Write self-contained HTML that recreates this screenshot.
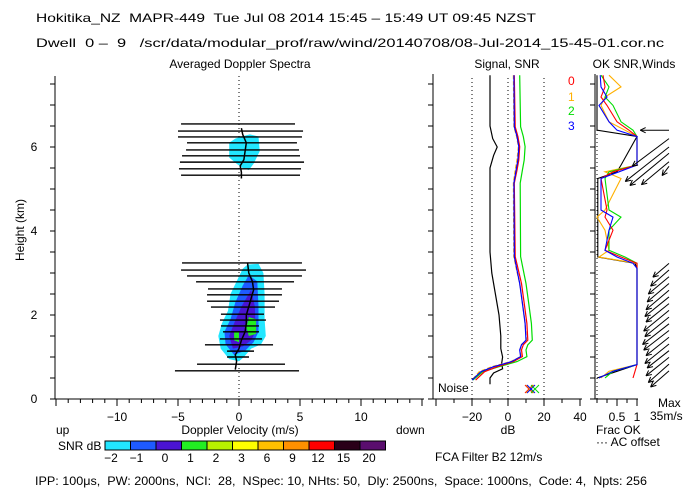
<!DOCTYPE html>
<html><head><meta charset="utf-8">
<style>
html,body{margin:0;padding:0;background:#fff;}
svg{display:block;font-family:"Liberation Sans",sans-serif;}
text{font-size:12px;fill:#000;white-space:pre;}
</style></head>
<body>
<svg id="chart" width="700" height="500" viewBox="0 0 700 500" xmlns="http://www.w3.org/2000/svg">
<g>
<text x="36" y="22" textLength="500" lengthAdjust="spacingAndGlyphs" font-size="13">Hokitika_NZ  MAPR-449  Tue Jul 08 2014 15:45 – 15:49 UT 09:45 NZST</text>
<text x="36" y="47" textLength="628" lengthAdjust="spacingAndGlyphs">Dwell  0 –  9   /scr/data/modular_prof/raw/wind/20140708/08-Jul-2014_15-45-01.cor.nc</text>
<text x="240" y="68" text-anchor="middle" font-size="13">Averaged Doppler Spectra</text>
<text x="507" y="68" text-anchor="middle" font-size="13">Signal, SNR</text>
<text x="634" y="68" text-anchor="middle" font-size="13">OK SNR,Winds</text>
</g>
<g id="axes"></g>
<g id="spectra"></g>
<g id="snr"></g>
<g id="frac"></g>
<g id="winds"></g>
<g>
<text transform="translate(24,230) rotate(-90)" text-anchor="middle" font-size="11">Height (km)</text>
<text x="240" y="434" text-anchor="middle">Doppler Velocity (m/s)</text>
<text x="56" y="434">up</text>
<text x="396" y="434">down</text>
<text x="58" y="450">SNR dB</text>
<text x="508" y="434" text-anchor="middle">dB</text>
<text x="596" y="434">Frac OK</text>
<text x="596" y="446">··· AC offset</text>
<text x="658" y="407">Max</text>
<text x="650" y="420">35m/s</text>
<text x="438" y="392">Noise</text>
<text x="435" y="461">FCA Filter B2 12m/s</text>
<text x="35" y="485" textLength="612" lengthAdjust="spacingAndGlyphs">IPP: 100μs,  PW: 2000ns,  NCI:  28,  NSpec: 10, NHts: 50,  Dly: 2500ns,  Space: 1000ns,  Code: 4,  Npts: 256</text>
<text x="568" y="85" style="fill:#ff0000">0</text>
<text x="568" y="101" style="fill:#ffb000">1</text>
<text x="568" y="115" style="fill:#00dd00">2</text>
<text x="568" y="130" style="fill:#0000ff">3</text>
</g>
<g id="colorbar"></g>
</svg>
<script>
// ---- data ----
var heightTicks = [0,2,4,6];
var velTicks = [-10,-5,0,5,10];
var dbTicks = [-20,0,20,40];
var fracTickLabels = ["0.5","1"];
var fracTickValues = [0.5,1];
var cbLabels = ["-2","-1","0","1","2","3","6","9","12","15","20"];
var cbColors = ["#22e6ff","#1e5aff","#4a14d2","#22ee22","#b8f000","#ffff00","#ffc000","#ff9000","#ff0000","#2a0018","#5a0e6e"];

var gateH = [6.55,6.38,6.24,6.10,5.93,5.79,5.64,5.48,5.33,3.24,3.07,2.93,2.79,2.62,2.48,2.33,2.19,2.02,1.88,1.74,1.60,1.43,1.29,1.14,1.0,0.83,0.67];
var gateLo = [-4.75,-5.0,-5.0,-4.26,-4.34,-4.67,-4.84,-4.92,-4.75,-4.67,-4.75,-4.26,-3.52,-2.54,-2.62,-2.62,-2.30,-1.48,-1.56,-1.48,-1.31,-1.56,-2.79,-0.98,-0.98,-3.44,-5.25];
var gateHi = [4.59,5.25,5.16,4.75,4.92,5.0,5.33,5.08,5.0,5.16,5.49,5.16,4.51,3.52,3.52,3.28,2.95,2.05,2.21,1.64,1.64,1.89,2.79,1.23,0.82,3.77,4.92];

var meanUpH = [6.45,6.3,6.1,5.9,5.7,5.55,5.4,5.25];
var meanUpV = [0.2,0.3,0.6,0.5,0.4,0.1,0.2,0.2];
var meanLoH = [3.25,3.0,2.8,2.6,2.4,2.2,2.0,1.8,1.6,1.4,1.2,1.05,0.9,0.7];
var meanLoV = [0.7,0.8,1.1,1.2,1.0,0.8,0.6,0.6,0.5,0.2,0.0,-0.3,-0.2,-0.3];

var cUpV = [0.9,1.6,1.7,1.2,0.8,0.3,-0.2,-0.8,-0.8,-0.3,0.2];
var cUpH = [6.3,6.25,5.9,5.6,5.45,5.5,5.6,5.75,6.1,6.2,6.25];
var cLoV = [0.7,1.6,2.0,2.1,2.1,2.2,1.8,1.0,0.4,0.0,-0.8,-1.5,-1.7,-1.4,-0.9,-0.7,-0.2,0.3];
var cLoH = [3.2,3.22,3.0,2.5,1.9,1.5,1.3,1.2,1.0,0.9,0.95,1.2,1.5,1.8,2.1,2.5,2.8,3.1];
var bLoV = [0.8,1.5,1.6,1.6,1.2,0.5,-0.4,-1.1,-1.2,-0.7,-0.3,0.3];
var bLoH = [2.95,2.8,2.2,1.6,1.35,1.15,1.05,1.3,1.6,1.9,2.3,2.7];
var iLoV = [1.0,1.3,1.35,1.0,0.3,-0.5,-0.8,-0.4,0.2];
var iLoH = [2.6,2.2,1.6,1.4,1.25,1.2,1.5,1.8,2.2];
var gLoV = [0.8,1.4,1.4,0.8,0.6];
var gLoH = [1.95,1.9,1.55,1.5,1.7];
var g2LoV = [-0.4,0.0,0.0,-0.4];
var g2LoH = [1.6,1.6,1.35,1.4];

var snrH = [7.71,6.48,6.25,6.01,5.69,5.45,5.14,3.39,3.07,2.75,2.28,1.80,1.40,1.29,1.17,1.01,0.89,0.77,0.65,0.45];
var snrBlue = [3.3,3.5,5,6,5.5,4.5,3.3,3.5,5,6.5,8,9.5,10,7.5,6.5,7,2,-8,-15,-20];
var snrRed = [3.5,4,5.5,6.5,6,5,3.5,4,5.8,7.5,9,10.5,11,8.5,7.5,8,3,-6,-13,-18];
var snrOrange = [3,3.3,4.8,5.8,5,4,3,3.2,4.8,6.5,8,9.5,10.3,7.2,6.8,7.2,1.5,-9,-16,-20];
var snrGreen = [6.5,7,8.5,9.5,9,8,6.8,7,8.5,10,11.5,13,13.5,11,10,10.5,5,-5,-14,-19.5];
var noiseH = [7.71,6.5,6.2,6.0,5.8,5.5,4.5,3.5,3.0,2.5,2.0,1.5,1.2,1.0,0.85,0.72,0.62,0.5,0.35];
var noiseDb = [-10,-10,-8.5,-6,-8,-10,-10,-10,-9,-7,-5,-4,-4,-3,-3.5,-3,-8,-10,-10];

var fH = [7.71,7.43,7.19,6.99,6.6,6.4,6.25,5.57,5.41,5.25,4.5,4.33,4.02,3.54,3.38,3.23,3.11,0.82,0.66,0.5];
var fBlue = [0.08,0.1,0.25,0.05,0.3,0.5,1.0,1.0,0.55,0.1,0.1,0.4,0.3,0.2,0.5,0.9,1.0,1.0,0.4,0.05];
var fRed = [0.15,0.2,0.1,0.25,0.5,0.8,1.0,1.0,0.4,0.1,0.25,0.2,0.4,0.2,0.6,1.0,1.0,1.0,0.95,0.9];
var fOrange = [0.3,0.6,0.2,0.1,0.3,0.7,1.0,1.0,0.2,0.6,0.2,0.0,0.2,0.3,0.05,1.0,1.0,1.0,0.3,0.1];
var fGreen = [0.1,0.3,0.2,0.4,0.6,0.9,1.0,1.0,0.3,0.2,0.3,0.6,0.3,0.3,0.7,1.0,1.0,1.0,0.4,0.2];
var fBlack = [0.0,0.0,0.0,0.0,0.0,0.0,1.0,0.6,0.5,0.02,0.02,0.02,0.02,0.02,0.02,0.95,1.0,1.0,0.5,0.0];

var windH = [6.40,6.2,6.0,5.85,5.65,5.54,3.23,3.07,2.91,2.75,2.59,2.43,2.27,2.11,1.95,1.79,1.63,1.47,1.31,1.15,0.99,0.83,0.67];
var windU = [-25,-32,-38,-34,-24,-6,-14,-16,-18,-19,-20,-21,-20,-22,-21,-23,-22,-20,-21,-19,-20,-18,-16];
var windV = [0,-24,-30,-28,-20,-8,-12,-14,-15,-16,-17,-17,-16,-18,-17,-18,-17,-16,-17,-15,-16,-16,-14];

// ---- scales ----
function hy(h){return 399-42*h;}
function vx(v){return 239+12.2*v;}
function dx(d){return 508+1.8*d;}
function fx(f){return 597+40*f;}
var NS="http://www.w3.org/2000/svg";
function mk(tag,attrs,parent){var e=document.createElementNS(NS,tag);for(var k in attrs)e.setAttribute(k,attrs[k]);parent.appendChild(e);return e;}
function pts(xs,ys){var s=[];for(var i=0;i<xs.length;i++)s.push(xs[i].toFixed(1)+","+ys[i].toFixed(1));return s.join(" ");}

var axes=document.getElementById("axes");
var ax;
ax=mk("line",{x1:55,y1:76,x2:55,y2:399,stroke:"#000"},axes);


ax=mk("line",{x1:50,y1:399,x2:424,y2:399,stroke:"#000"},axes);


ax=mk("line",{x1:433,y1:74,x2:433,y2:399,stroke:"#000"},axes);


ax=mk("line",{x1:428,y1:399,x2:582,y2:399,stroke:"#000"},axes);


ax=mk("line",{x1:595,y1:74,x2:595,y2:399,stroke:"#000"},axes);


ax=mk("line",{x1:591,y1:399,x2:638,y2:399,stroke:"#000"},axes);


for(var h=0;h<=7.5;h+=0.5){
  [55,433,595].forEach(function(x){mk("line",{x1:x-5,y1:hy(h),x2:x,y2:hy(h),stroke:"#000"},axes);});
}
heightTicks.forEach(function(h){
  var t=mk("text",{x:34,y:hy(h)+4,"text-anchor":"middle"},axes);t.textContent=String(h);
  
  
});
for(var v=-15;v<=15;v++){
  var x=vx(v); if(x<50||x>424)continue;
  mk("line",{x1:x,y1:399,x2:x,y2:v%5===0?406:403,stroke:"#000"},axes);
}
velTicks.forEach(function(v){
  var t=mk("text",{x:vx(v),y:421,"text-anchor":"middle"},axes);t.textContent=(v<0?"−":"")+Math.abs(v);
  
  
});
for(var d=-40;d<=40;d+=10){var x2=dx(d);if(x2<428)continue;mk("line",{x1:x2,y1:399,x2:x2,y2:d%20===0?406:403,stroke:"#000"},axes);}
dbTicks.forEach(function(d){
  var t=mk("text",{x:dx(d),y:421,"text-anchor":"middle"},axes);t.textContent=(d<0?"−":"")+Math.abs(d);
  
  
});
for(var f=0;f<=1.001;f+=0.25){mk("line",{x1:fx(f),y1:399,x2:fx(f),y2:(f===0.5||f===1)?406:403,stroke:"#000"},axes);}
fracTickValues.forEach(function(f,i){
  var t=mk("text",{x:fx(f),y:421,"text-anchor":"middle"},axes);t.textContent=fracTickLabels[i];
  
  
});
mk("line",{x1:vx(0),y1:76,x2:vx(0),y2:399,stroke:"#000","stroke-dasharray":"1,3"},axes);
[-20,0,20].forEach(function(d){mk("line",{x1:dx(d),y1:78,x2:dx(d),y2:399,stroke:"#000","stroke-dasharray":"1,3"},axes);});
mk("line",{x1:fx(0),y1:78,x2:fx(0),y2:399,stroke:"#000","stroke-dasharray":"1,3"},axes);

// spectra
var sp=document.getElementById("spectra");
function poly(vs,hs,col,name){var p=mk("polygon",{points:pts(vs.map(vx),hs.map(hy)),fill:col,stroke:"none"},sp);

}
poly(cUpV,cUpH,cbColors[0],'upper-contour-cyan');
poly(cLoV,cLoH,cbColors[0],'lower-contour-cyan');
poly(bLoV,bLoH,cbColors[1],'lower-contour-blue');
poly(iLoV,iLoH,cbColors[2],'lower-contour-indigo');
poly(gLoV,gLoH,cbColors[3],'lower-contour-green');
poly(g2LoV,g2LoH,cbColors[3],'lower-contour-green-2');
for(var i=0;i<gateH.length;i++){
  var l=mk("line",{x1:vx(gateLo[i]),y1:hy(gateH[i]),x2:vx(gateHi[i]),y2:hy(gateH[i]),stroke:"#000","stroke-width":1.4},sp);
  
  
}
var m1=mk("polyline",{points:pts(meanUpV.map(vx),meanUpH.map(hy)),fill:"none",stroke:"#000","stroke-width":1.5},sp);


var m2=mk("polyline",{points:pts(meanLoV.map(vx),meanLoH.map(hy)),fill:"none",stroke:"#000","stroke-width":1.5},sp);



// snr panel
var sn=document.getElementById("snr");
function sline(vals,hs,col,name,xf,dash){var a={points:pts(vals.map(xf),hs.map(hy)),fill:"none",stroke:col,"stroke-width":1.2};if(dash)a["stroke-dasharray"]=dash;var p=mk("polyline",a,sn);

return p;}
sline(noiseDb,noiseH,"#000","signal-line",dx);
sline(snrGreen,snrH,"#00dd00","snr-line-2",dx);
sline(snrRed,snrH,"#ff0000","snr-line-0",dx);
sline(snrOrange,snrH,"#ffb000","snr-line-1",dx,"4,2");
sline(snrBlue,snrH,"#0000ff","snr-line-3",dx);
var xs=[["#ff0000",529],["#ffb000",530],["#0000ff",531],["#00dd00",535]];
xs.forEach(function(c){var g=mk("g",{stroke:c[0]},sn);


mk("line",{x1:c[1]-4,y1:385,x2:c[1]+4,y2:393},g);mk("line",{x1:c[1]+4,y1:385,x2:c[1]-4,y2:393},g);});

// frac panel
var fr=document.getElementById("frac");
function fline(vals,col,name){var p=mk("polyline",{points:pts(vals.map(fx),fH.map(hy)),fill:"none",stroke:col,"stroke-width":1.1},fr);

}
fline(fBlack,"#000","frac-ok-black");
fline(fOrange,"#ffb000","frac-ok-1");
fline(fGreen,"#00dd00","frac-ok-2");
fline(fRed,"#ff0000","frac-ok-0");
fline(fBlue,"#0000ff","frac-ok-3");

// winds
var wn=document.getElementById("winds");
var wScale=1.15, tailX=669;
for(var i=0;i<windH.length;i++){
  var x0=tailX,y0=hy(windH[i]),x1=x0+windU[i]*wScale,y1=y0-windV[i]*wScale;
  var ang=Math.atan2(y1-y0,x1-x0),hl=6;
  var g=mk("g",{stroke:"#000","stroke-width":1},wn);
  
  
  mk("line",{x1:x0,y1:y0,x2:x1,y2:y1},g);
  mk("line",{x1:x1,y1:y1,x2:x1-hl*Math.cos(ang-0.45),y2:y1-hl*Math.sin(ang-0.45)},g);
  mk("line",{x1:x1,y1:y1,x2:x1-hl*Math.cos(ang+0.45),y2:y1-hl*Math.sin(ang+0.45)},g);
}

// colorbar
var cb=document.getElementById("colorbar");
var cbx=105,cbw=25.5;
for(var i=0;i<cbColors.length;i++){
  var r=mk("rect",{x:cbx+i*cbw,y:441,width:cbw,height:9,fill:cbColors[i],stroke:"#000","stroke-width":1},cb);
  
  
  var t=mk("text",{x:cbx+i*cbw+(i<2?6:9),y:462,"text-anchor":"middle"},cb);t.textContent=cbLabels[i].replace("-","−");
  
  
}
</script>
</body></html>
